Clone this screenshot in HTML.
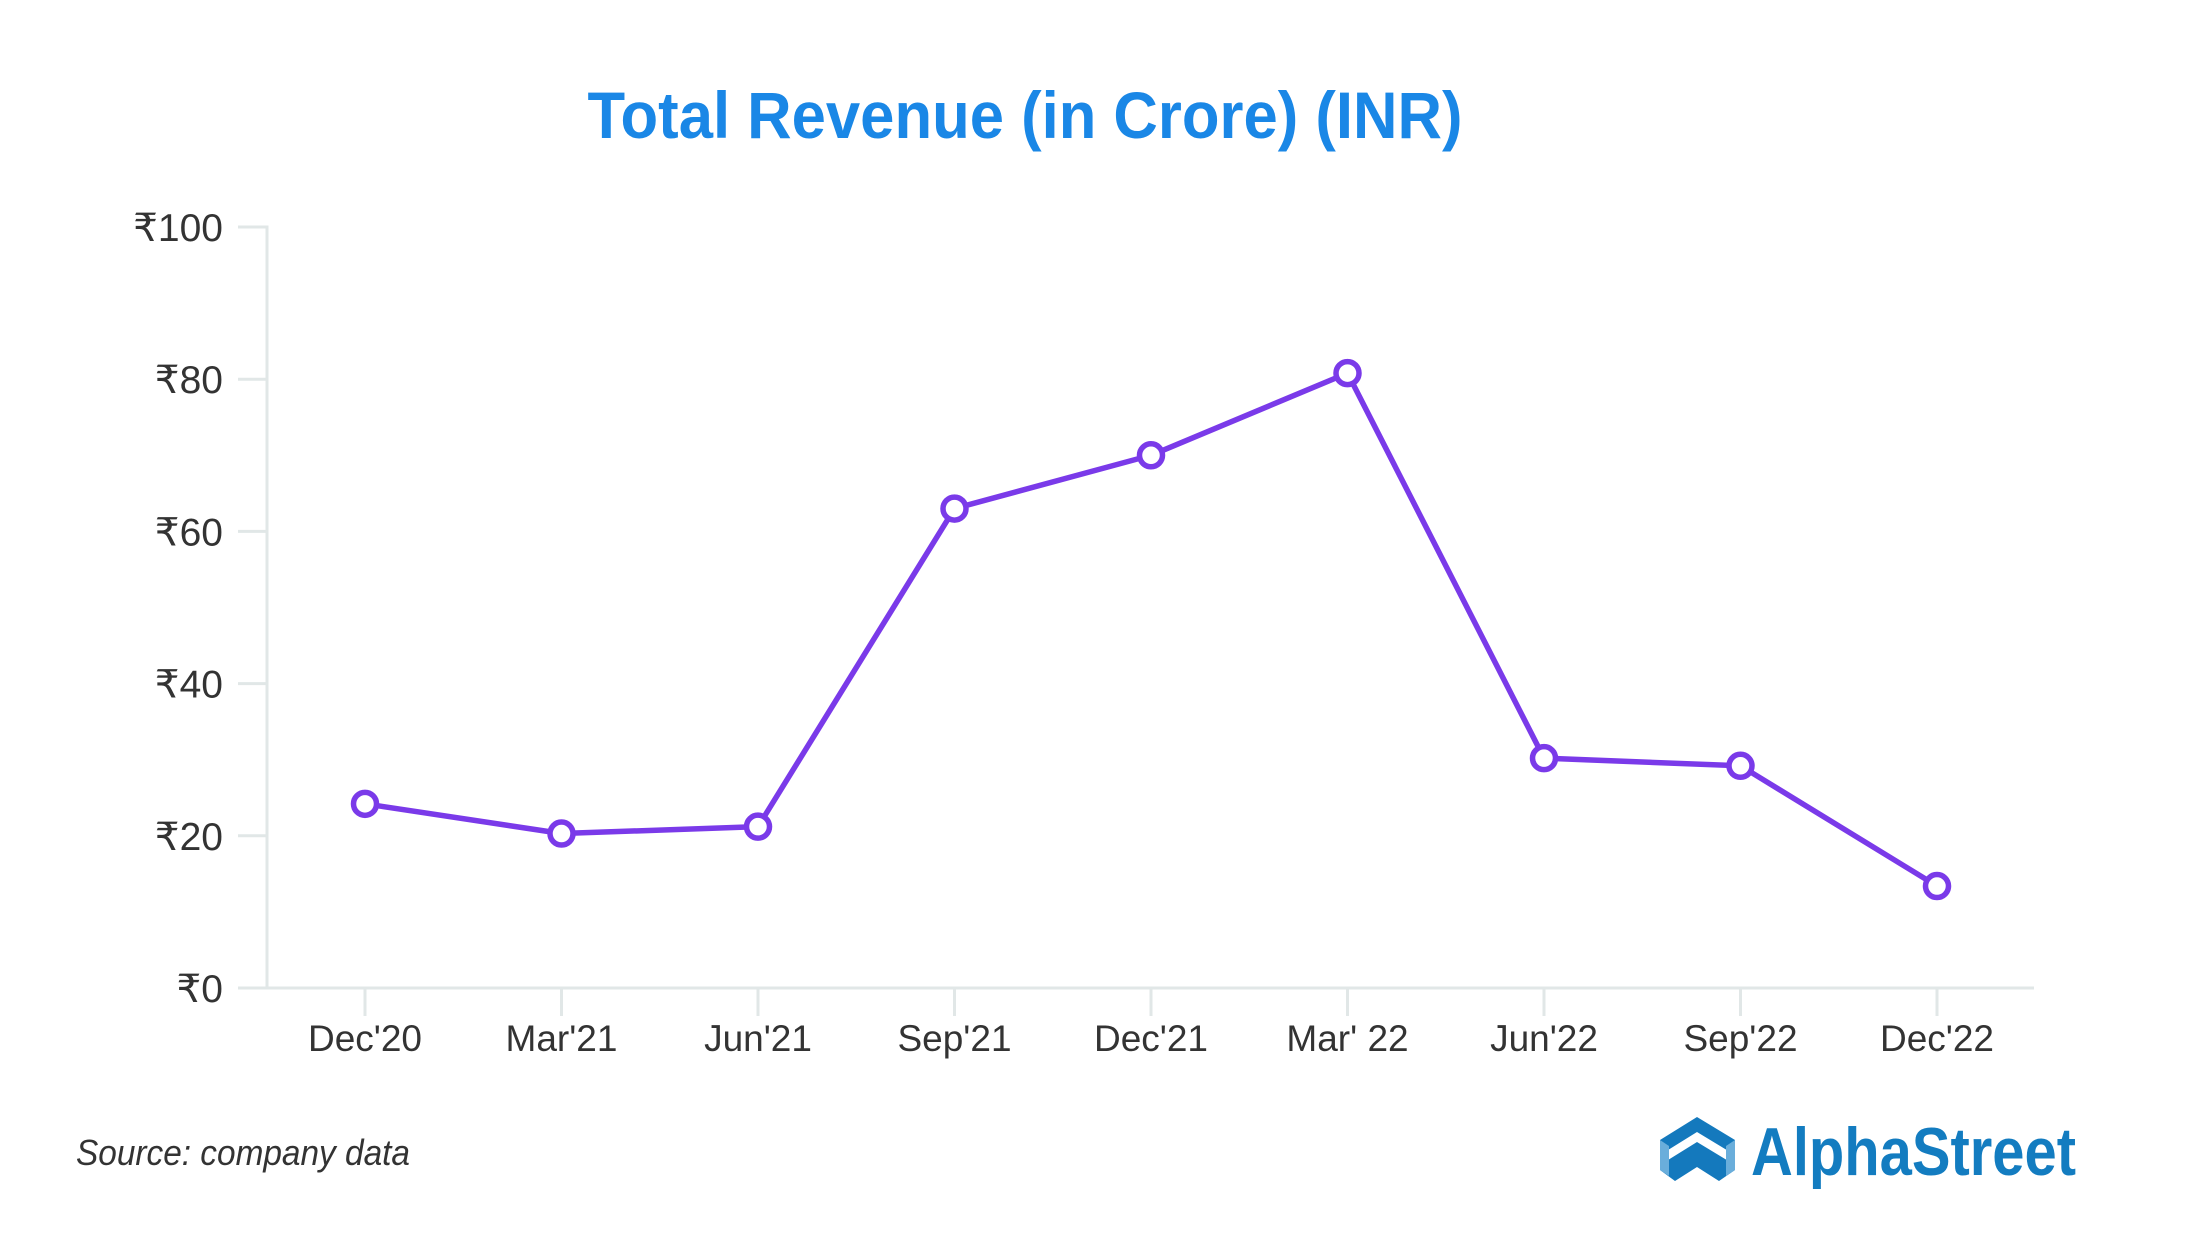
<!DOCTYPE html>
<html><head><meta charset="utf-8"><style>
html,body{margin:0;padding:0;background:#fff;}
svg{display:block;}
text{font-family:"Liberation Sans",sans-serif;}
</style></head><body>
<svg id="chart" width="2187" height="1250" viewBox="0 0 2187 1250" xmlns="http://www.w3.org/2000/svg">
<rect width="2187" height="1250" fill="#fff"/>
<text x="1025" y="138" text-anchor="middle" font-size="66" font-weight="bold" fill="#1a87e6" textLength="875" lengthAdjust="spacingAndGlyphs">Total Revenue (in Crore) (INR)</text>
<g id="axes"></g>
<g id="series"></g>
<text x="76" y="1165" font-size="36" font-style="italic" fill="#333" textLength="334" lengthAdjust="spacingAndGlyphs">Source: company data</text>
<g transform="translate(-25,0)">
<polygon points="1685,1140 1722,1117 1760,1140 1760,1155 1722,1132 1685,1155" fill="#1479bd"/>
<polygon points="1685,1165 1722,1142 1760,1165 1760,1170 1744,1181 1722,1167 1700,1181 1685,1170" fill="#1479bd"/>
<polygon points="1685,1140 1694,1146 1694,1176 1685,1170" fill="#6aaedb"/>
<polygon points="1760,1140 1751,1146 1751,1176 1760,1170" fill="#6aaedb"/>
<text x="1776" y="1175" font-size="68" font-weight="bold" fill="#137cc0" textLength="325" lengthAdjust="spacingAndGlyphs">AlphaStreet</text>
</g>
</svg>
<script>
const categories = ["Dec'20","Mar'21","Jun'21","Sep'21","Dec'21","Mar' 22","Jun'22","Sep'22","Dec'22"];
const revenue = [24.2, 20.3, 21.2, 63.0, 70.0, 80.8, 30.2, 29.2, 13.4];
const yTicks = [0, 20, 40, 60, 80, 100];
const yTickLabels = ["₹0","₹20","₹40","₹60","₹80","₹100"];

const NS = "http://www.w3.org/2000/svg";
const plotLeft = 267, plotRight = 2034, y0px = 988, y100px = 227;
const firstX = 365, stepX = 196.5;
function xScale(i){ return firstX + i*stepX; }
function yScale(v){ return y0px - (v/100)*(y0px - y100px); }
function mk(tag, attrs, parent){
  const el = document.createElementNS(NS, tag);
  for (const k in attrs) el.setAttribute(k, attrs[k]);
  parent.appendChild(el);
  return el;
}
const axes = document.getElementById('axes');
const series = document.getElementById('series');
const axisColor = "#e1e7e7";

let yAxis = mk('line', {x1:plotLeft, y1:yScale(100)-1.5, x2:plotLeft, y2:y0px, stroke:axisColor, 'stroke-width':3}, axes);


let xAxis = mk('line', {x1:238, y1:y0px, x2:plotRight, y2:y0px, stroke:axisColor, 'stroke-width':3}, axes);



yTicks.forEach((v, i) => {
  const y = yScale(v);
  const t = mk('line', {x1:238, y1:y, x2:plotLeft, y2:y, stroke:axisColor, 'stroke-width':3}, axes);
  
  
  const lb = mk('text', {x:223, y:y+14, 'text-anchor':'end', 'font-size':39, fill:'#333'}, axes);
  lb.textContent = yTickLabels[i];
  
  
});

categories.forEach((c, i) => {
  const x = xScale(i);
  const t = mk('line', {x1:x, y1:y0px, x2:x, y2:1016, stroke:axisColor, 'stroke-width':3}, axes);
  
  
  const lb = mk('text', {x:x, y:1051, 'text-anchor':'middle', 'font-size':37, fill:'#333'}, axes);
  lb.textContent = c;
  
  
});

const pts = revenue.map((v, i) => xScale(i) + ',' + yScale(v)).join(' ');
const line = mk('polyline', {points:pts, fill:'none', stroke:'#7a3ae9', 'stroke-width':5.5, 'stroke-linejoin':'round'}, series);


revenue.forEach((v, i) => {
  const c = mk('circle', {cx:xScale(i), cy:yScale(v), r:11.5, fill:'#fff', stroke:'#7a3ae9', 'stroke-width':5.5}, series);
  
  
});
</script>
</body></html>
